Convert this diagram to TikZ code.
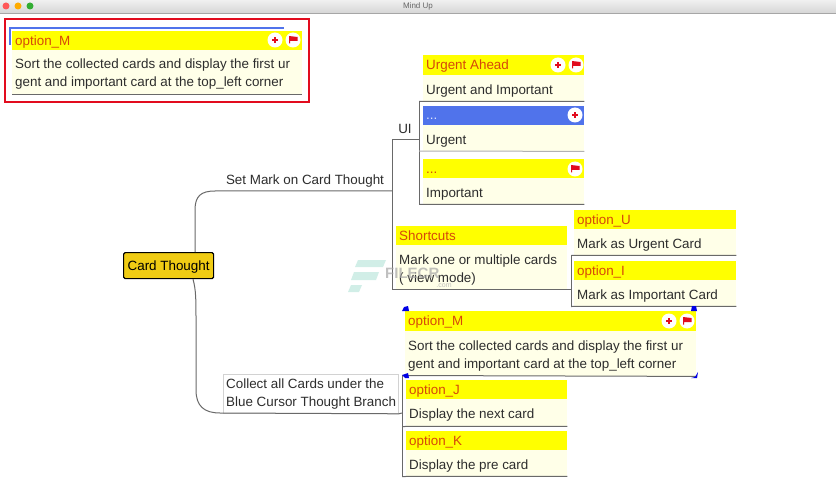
\documentclass[tikz,border=0pt]{standalone}
\usepackage{fontspec}
\setmainfont{Liberation Sans}
\usetikzlibrary{shadings}
\definecolor{headyellow}{RGB}{255,255,0}
\definecolor{cardcream}{RGB}{255,255,232}
\definecolor{headtext}{RGB}{214,72,10}
\definecolor{bodytext}{RGB}{45,45,45}
\definecolor{linegrey}{RGB}{105,105,105}
\definecolor{cursorblue}{RGB}{80,115,235}
\definecolor{rootfill}{RGB}{240,204,20}
\definecolor{markred}{RGB}{226,12,30}
\definecolor{wmteal}{RGB}{190,232,222}
\tikzset{
  x=1pt,y=-1pt,
  txt/.style={font=\fontsize{13.4}{18}\selectfont,text=bodytext,inner sep=0pt,align=left,text height=12.6pt,text depth=2.8pt},
  cardbg/.style={fill=cardcream,draw=none,inner sep=0pt,anchor=north west},
  headbar/.style={fill=headyellow,draw=none,inner sep=0pt,anchor=north west},
  headtxt/.style={txt,text=headtext,anchor=west},
  bodytxt/.style={txt,anchor=west},
  conn/.style={draw=linegrey,line width=1pt},
  iconbg/.style={circle,fill=white,draw=none,inner sep=0pt,minimum size=15pt},
  corner/.style={fill=blue!90!black,draw=none},
}
% #1 name, #2 x0, #3 x1, #4 top, #5 head bottom, #6 bottom, #7 head, #8 body, #9 y of the last body line
\newcommand{\mmcard}[9]{%
  \pgfmathsetmacro{\cw}{#3-#2}\pgfmathsetmacro{\ch}{#6-#4}\pgfmathsetmacro{\hh}{#5-#4}%
  \pgfmathsetmacro{\hy}{(#4+#5)/2}%
  \node[cardbg,minimum width=\cw pt,minimum height=\ch pt] (#1) at (#2,#4) {};
  \node[headbar,minimum width=\cw pt,minimum height=\hh pt] (#1h) at (#2,#4) {};
  \node[headtxt] (#1t) at (#2+3,\hy) {#7};
  \node[bodytxt] (#1b) at (#2+3,#9) {#8};
}
\newcommand{\plusicon}[2]{%
  \node[iconbg] (#1) at (#2) {};
  \fill[markred] ([xshift=-3.4pt,yshift=-1pt]#1.center) rectangle ([xshift=3.4pt,yshift=1pt]#1.center);
  \fill[markred] ([xshift=-1pt,yshift=-3.4pt]#1.center) rectangle ([xshift=1pt,yshift=3.4pt]#1.center);
}
\newcommand{\flagicon}[2]{%
  \node[iconbg] (#1) at (#2) {};
  \fill[markred] ([xshift=-4pt,yshift=4pt]#1.center) -- ([xshift=4.5pt,yshift=3pt]#1.center) -- ([xshift=4.5pt,yshift=-1pt]#1.center) -- ([xshift=-3pt,yshift=-1pt]#1.center) -- ([xshift=-3pt,yshift=-3.5pt]#1.center) -- ([xshift=-4pt,yshift=-3.5pt]#1.center) -- cycle;
}
\begin{document}
\begin{tikzpicture}
\useasboundingbox (0,0) rectangle (836,484);
\fill[white] (0,0) rectangle (836,484);
% window title bar
\shade[top color=gray!12,bottom color=gray!32] (0,0) rectangle (836,13);
\draw[gray!70,line width=.8pt] (0,13.5) -- (836,13.5);
\fill[red!65!white] (6,6) circle (3.5);
\fill[orange!65!yellow] (18,6) circle (3.5);
\fill[green!60!black!80] (30,6) circle (3.5);
\node[font=\fontsize{8}{9}\selectfont,text=gray!80!black,inner sep=0pt] (title) at (418,6.5) {Mind Up};

% legend card at top left
\node[draw=markred,line width=2.6pt,fill=white,minimum width=304pt,minimum height=83pt,inner sep=0pt,anchor=north west] (frame) at (3.7,17.7) {};
\draw[cursorblue,line width=2pt] (10,45) -- (10,28) -- (284,28);
\mmcard{topm}{12}{302}{31}{50}{94}{option\_M}{Sort the collected cards and display the first ur\\gent and important card at the top\_left corner}{82}
\draw[linegrey,line width=1pt] (topm.south west) -- (topm.south east);
\plusicon{topmp}{275,40}
\flagicon{topmf}{293,40}

% root
\node[fill=rootfill,draw=black,line width=1.2pt,rounded corners=1.5pt,minimum width=90pt,minimum height=26pt,inner sep=0pt,txt,text=black,anchor=north west] (root) at (123,252) {Card Thought};

% branch labels
\node[txt] (setmark) at (305,180) {Set Mark on Card Thought};
\node[txt] (ui) at (405,129) {UI};
\coordinate (setend) at (392,191);
\coordinate (uijoin) at (392,140);
\coordinate (uibrk) at (419,140);
\coordinate (shortbot) at (392,289.5);

% connectors
\draw[conn] (root.north -| 195,0) -- (195,210) .. controls (195,196) and (201,191) .. (215,191) -- (setend);
\draw[conn] (uijoin) -- (shortbot);
\draw[conn] (uijoin) -- (uibrk);
\draw[conn] (419,101.5) -- (419,204.5);

% cards under UI
\mmcard{ahead}{423}{584}{55}{75}{101}{Urgent Ahead}{Urgent and Important}{90}
\draw[linegrey,line width=1pt] (419,101.5) -- (ahead.south east);
\plusicon{aheadp}{558,65}
\flagicon{aheadf}{576,65}

\mmcard{urg}{423}{584}{106}{125}{151}{...}{Urgent}{140}
\node[headbar,fill=cursorblue,minimum width=161pt,minimum height=19pt] (urgblue) at (423,106) {};
\node[headtxt,text=white!80!cursorblue] (urgdots) at (426,115) {...};
\draw[gray!60,line width=1pt] (419,151) -- (urg.south east);
\plusicon{urgp}{575,115}

\mmcard{imp}{423}{584}{159}{178}{204}{...}{Important}{193}
\flagicon{impf}{575,169}
\draw[linegrey,line width=1pt] (419,204.5) -- (imp.south east);

% shortcuts
\mmcard{sc}{396}{567}{226}{245}{289}{Shortcuts}{Mark one or multiple cards\\( view mode)}{278}
\draw[linegrey,line width=1pt] (shortbot) -- (571,289.5);
\draw[linegrey,line width=1pt] (571,255) -- (571,306);
\mmcard{optu}{574}{736}{210}{229}{255}{option\_U}{Mark as Urgent Card}{244}
\draw[linegrey,line width=1pt] (571,255.5) -- (optu.south east);
\mmcard{opti}{574}{736}{261}{280}{306}{option\_I}{Mark as Important Card}{295}
\draw[linegrey,line width=1pt] (571,306.5) -- (opti.south east);

% lower branch
\node[fill=white,draw=gray!35,line width=.8pt,minimum width=175pt,minimum height=39pt,inner sep=0pt,anchor=north west] (collect) at (223,374) {};
\node[bodytxt] (collectt) at (226,402) {Collect all Cards under the\\Blue Cursor Thought Branch};
\draw[conn] (root.south -| 193,0) .. controls (196,290) and (196,300) .. (196,320) -- (196,390) .. controls (196,406) and (204,413) .. (220,413) -- (collect.south east) -- (402,413);
\draw[conn] (402,375.5) -- (402,476.5);

\mmcard{lowm}{405}{696}{311}{331}{376}{option\_M}{Sort the collected cards and display the first ur\\gent and important card at the top\_left corner}{364}
\draw[linegrey,line width=1pt] (402,375.5) -- (lowm.south east);
\plusicon{lowmp}{669,321}
\flagicon{lowmf}{687,321}
\fill[corner] (402,311) -- (404,307) -- (408,306) -- (409,311) -- cycle;
\fill[corner] (691,311) -- (692,306) -- (696,306) -- (697,311) -- cycle;
\fill[corner] (402,375) -- (408,373) -- (409,378) -- (405,378) -- cycle;
\fill[corner] (691,378) -- (695,377) -- (698,372) -- (697,378) -- cycle;

\mmcard{optj}{406}{567}{380}{399}{426}{option\_J}{Display the next card}{414}
\draw[linegrey,line width=1pt] (402,426.5) -- (optj.south east);
\mmcard{optk}{406}{567}{431}{450}{476}{option\_K}{Display the pre card}{465}
\draw[linegrey,line width=1pt] (402,476.5) -- (optk.south east);

% watermark
\begin{scope}[opacity=.7]
\fill[wmteal] (358,260) -- (386,260) -- (383,267) -- (355,267) -- cycle;
\fill[wmteal] (354,272) -- (379,272) -- (376,280) -- (351,280) -- cycle;
\fill[wmteal] (351,285) -- (362,285) -- (359,292) -- (348,292) -- cycle;
\node[font=\bfseries\fontsize{15}{15}\selectfont,text=gray!70,inner sep=0pt,anchor=west] (wm) at (385,273) {FILECR};
\node[font=\fontsize{7}{7}\selectfont,text=gray!70,inner sep=0pt] (wmcom) at (444,286) {.com};
\end{scope}
\end{tikzpicture}
\end{document}
